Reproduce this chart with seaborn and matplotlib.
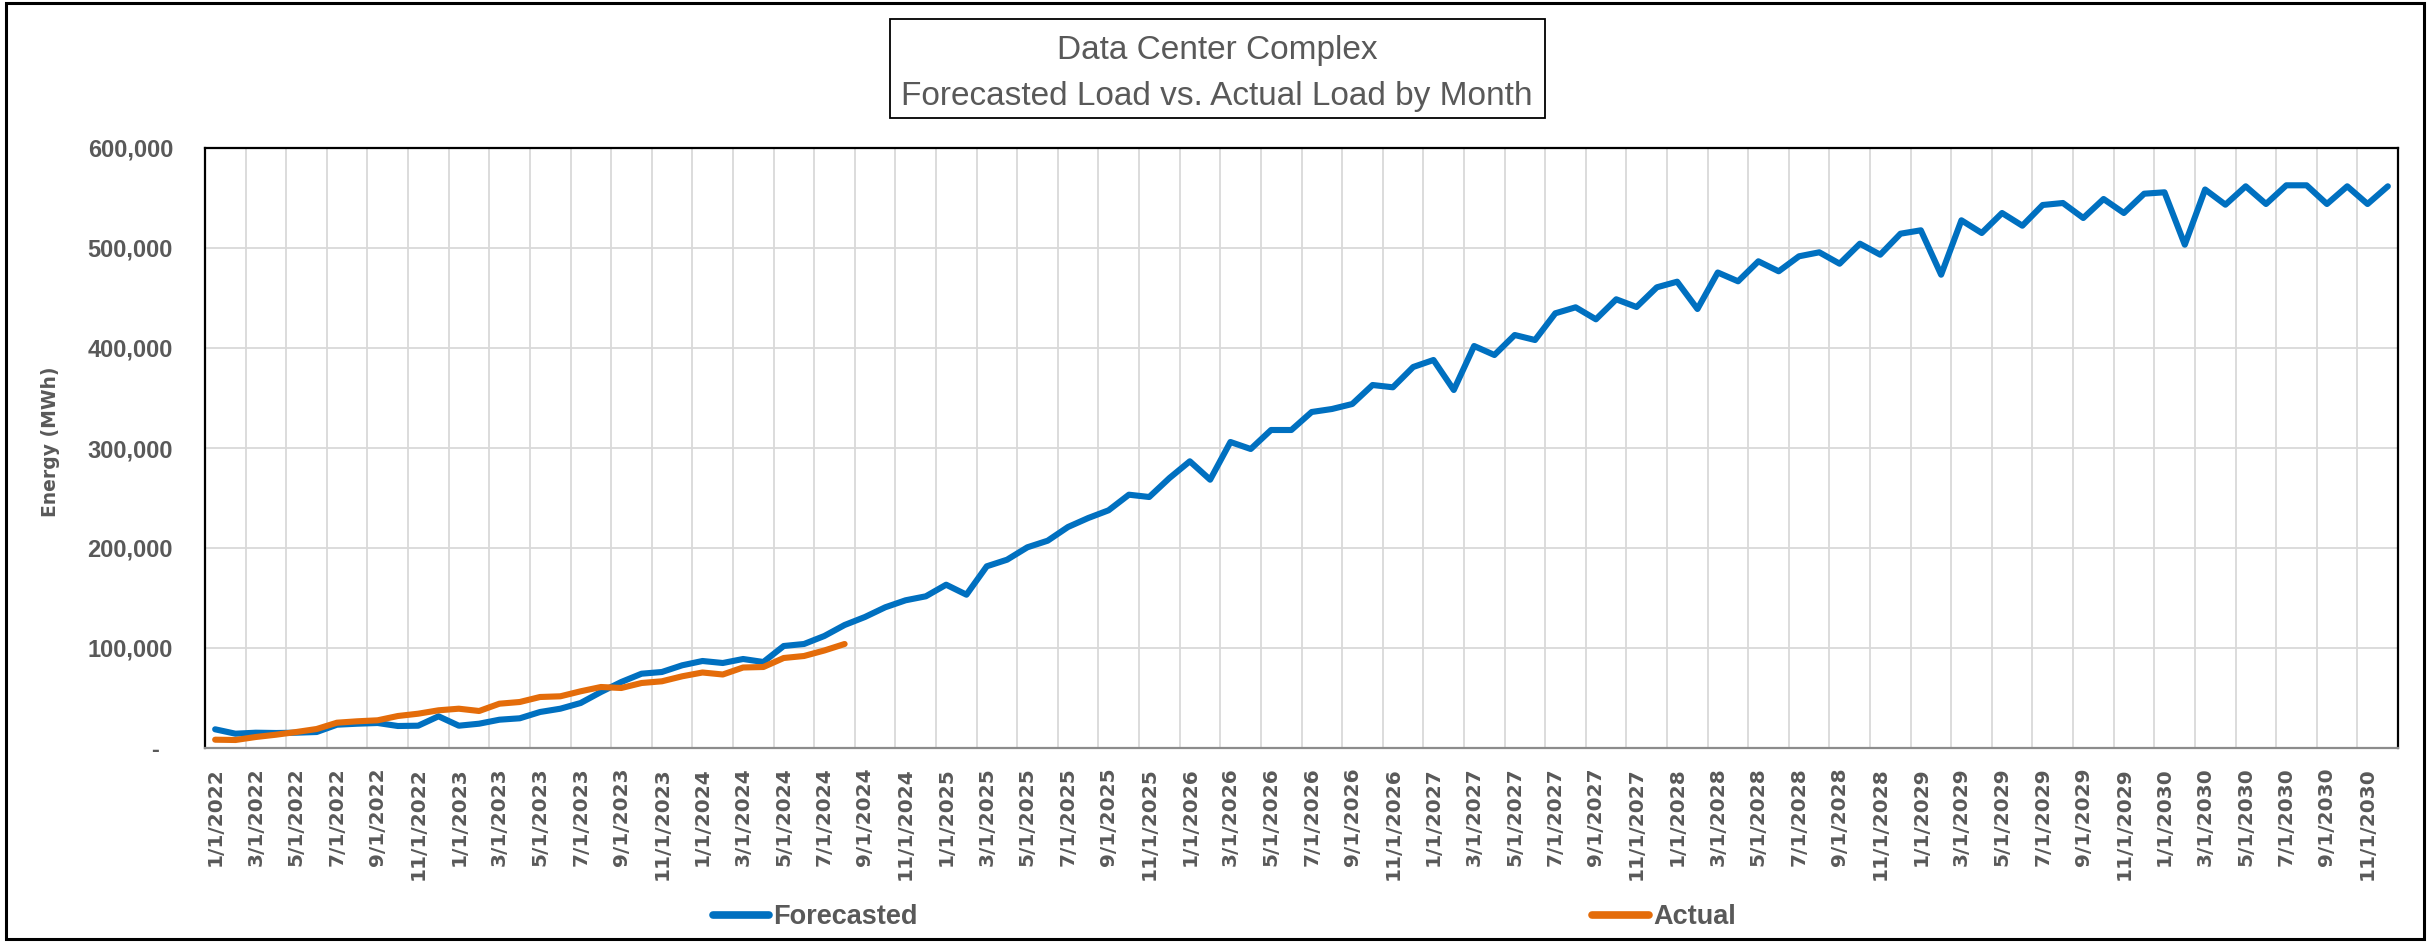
import numpy as np
import pandas as pd
import seaborn as sns
import matplotlib
matplotlib.use("Agg")
import matplotlib.pyplot as plt
from matplotlib.patches import Rectangle
from matplotlib.ticker import FuncFormatter

# ==========================================
# Data (MWh per month)
# ==========================================
months = pd.date_range("2022-01-01", periods=108, freq="MS")
month_labels = [f"{d.month}/1/{d.year}" for d in months]

forecasted = [
	18700, 14300, 15300, 15000, 15300, 16000, 23300, 24300, 25000, 22000, 22300, 31700,
	22300, 24300, 28300, 29700, 36000, 39300, 45000, 56000, 66000, 74300, 76000, 82700,
	87000, 85000, 89000, 86000, 102000, 104000, 112000, 123000, 131000, 140700, 147700, 151700,
	163300, 153300, 181700, 188300, 200700, 207300, 221000, 230000, 237700, 253300, 251000, 270000,
	286700, 268300, 306000, 299000, 318000, 318000, 336000, 339000, 344000, 363000, 360700, 381000,
	388000, 358000, 402000, 393000, 413000, 408000, 434700, 440700, 428700, 448700, 441000, 460700,
	466300, 439000, 475500, 466700, 486700, 476700, 491700, 495700, 484300, 504300, 493300, 514300,
	517700, 473300, 527700, 515000, 535000, 522300, 543000, 545000, 530000, 549000, 535000, 554300,
	555700, 503300, 558500, 543300, 561700, 544000, 562700, 562700, 544000, 561700, 544000, 561700,
]

actual = [
	8300, 8000, 11000, 13300, 16000, 19000, 25300, 26700, 27700, 32000, 34300, 37700,
	39300, 37000, 44300, 46000, 51000, 51700, 56700, 61000, 60000, 65000, 66700, 71700,
	75500, 73500, 80500, 81000, 90000, 92000, 97500, 104000,
]

series_colors = {"Forecasted": "#0070C0", "Actual": "#E46C0A"}
TEXT_GREY = "#595959"

# ==========================================
# Build long-form table for seaborn
# ==========================================
df = pd.concat([
	pd.DataFrame({"idx": np.arange(len(forecasted)), "energy": forecasted, "series": "Forecasted"}),
	pd.DataFrame({"idx": np.arange(len(actual)), "energy": actual, "series": "Actual"}),
], ignore_index=True)

sns.set_theme(style="white")
plt.rcParams["font.family"] = ["Liberation Sans", "DejaVu Sans"]

W, H = 2427, 942
fig = plt.figure(figsize=(W / 100, H / 100), dpi=100)
ax = fig.add_axes([205 / W, 1 - 748 / H, (2398 - 205) / W, 600 / H])

sns.lineplot(data=df, x="idx", y="energy", hue="series", palette=series_colors,
			 linewidth=4.4, ax=ax, sort=False)
for line in ax.get_lines():
	line.set_solid_capstyle("round")
	line.set_solid_joinstyle("round")

# --- axes limits / ticks ---
n = len(forecasted)
ax.set_xlim(-0.5, n - 0.5)
ax.set_ylim(0, 600000)
ax.set_yticks(np.arange(0, 600001, 100000))
ax.yaxis.set_major_formatter(FuncFormatter(lambda v, p: "-  " if v == 0 else f"{int(v):,}"))

ax.set_xticks(np.arange(0, n, 2))
ax.set_xticklabels(month_labels[::2], rotation=90, fontfamily="DejaVu Sans",
				   fontweight="bold", fontsize=14.5, color=TEXT_GREY)
ax.set_xticks(np.arange(1.5, n - 1, 2), minor=True)

for lab in ax.get_yticklabels():
	lab.set_fontweight("bold")
	lab.set_fontsize(17)
	lab.set_color(TEXT_GREY)

ax.tick_params(axis="x", which="both", length=0, pad=14)
ax.tick_params(axis="y", length=0, pad=23)

ax.grid(False)
ax.grid(True, axis="y", which="major", color="#d9d9d9", linewidth=1.3)
ax.grid(True, axis="x", which="minor", color="#d9d9d9", linewidth=1.3)
ax.set_axisbelow(True)

for side in ["top", "left", "right"]:
	ax.spines[side].set_color("black")
	ax.spines[side].set_linewidth(1.6)
ax.spines["bottom"].set_color("#8c8c8c")
ax.spines["bottom"].set_linewidth(1.6)

ax.set_xlabel("")
ax.set_ylabel("Energy (MWh)", fontfamily="DejaVu Sans", fontweight="bold",
			  fontsize=13.5, color=TEXT_GREY)
ax.yaxis.set_label_coords((60 - 205) / (2398 - 205), 0.51)

# --- legend at the bottom ---
handles, labels = ax.get_legend_handles_labels()
ax.get_legend().remove()
leg = fig.legend(handles, labels, loc="center left", bbox_to_anchor=(699 / W, 1 - 917 / H),
				 ncol=2, frameon=False, borderpad=0, handlelength=2.1, handletextpad=0.15,
				 columnspacing=24.9, prop={"family": "Liberation Sans", "weight": "bold", "size": 19.5})
for line in leg.get_lines():
	line.set_linewidth(5.5)
	line.set_solid_capstyle("round")
for t in leg.get_texts():
	t.set_color(TEXT_GREY)

# --- title box ---
fig.patches.append(Rectangle((890 / W, 1 - 118 / H), 655 / W, 99 / H, transform=fig.transFigure,
							 fill=False, edgecolor="black", linewidth=1.3))
fig.text(1217 / W, 1 - 59.5 / H, "Data Center Complex", ha="center", va="baseline",
		 fontsize=24, color=TEXT_GREY)
fig.text(1217 / W, 1 - 105 / H, "Forecasted Load vs. Actual Load by Month", ha="center",
		 va="baseline", fontsize=24, color=TEXT_GREY)

# --- outer chart border ---
fig.patches.append(Rectangle((6 / W, 3 / H), (2424 - 6) / W, (939 - 3) / H, transform=fig.transFigure,
							 fill=False, edgecolor="black", linewidth=2.2))

fig.savefig("out.png", dpi=100)
plt.close(fig)
